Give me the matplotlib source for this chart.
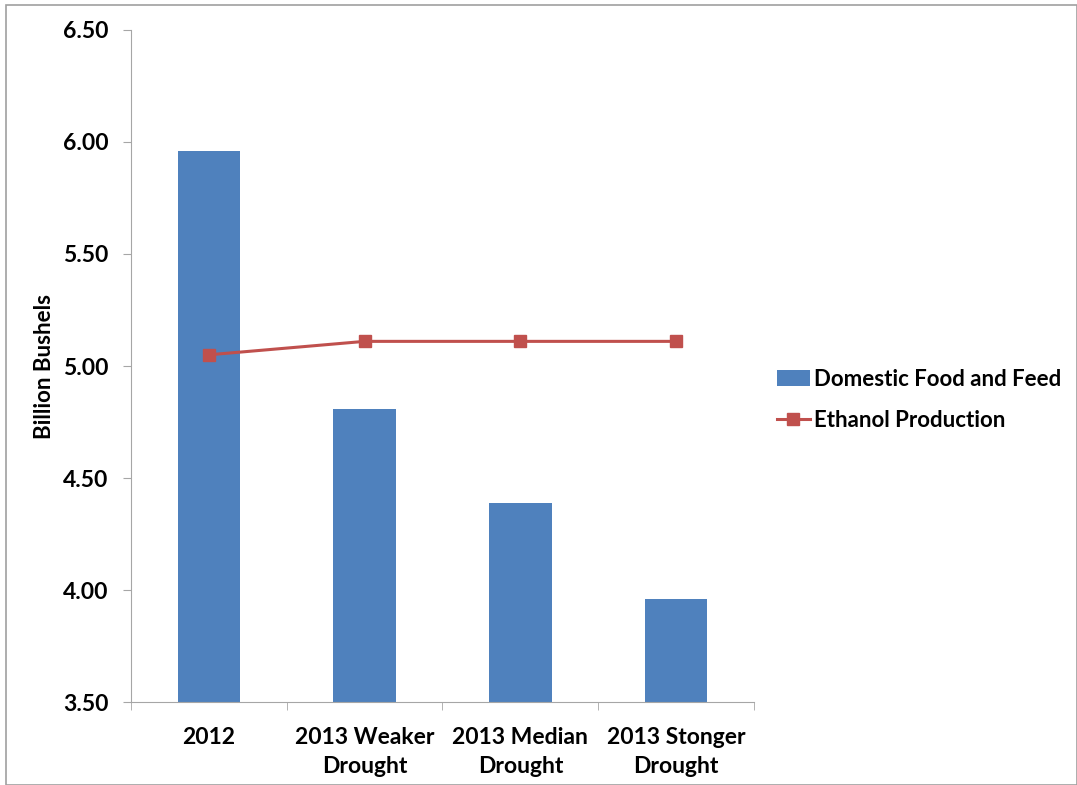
import numpy as np
import matplotlib.pyplot as plt
from matplotlib.patches import Rectangle

plt.rcParams["font.family"] = ["Lato", "DejaVu Sans"]
plt.rcParams["font.weight"] = "bold"

categories = ["2012", "2013 Weaker\nDrought", "2013 Median\nDrought", "2013 Stonger\nDrought"]
food_feed = [5.96, 4.81, 4.39, 3.96]
ethanol = [5.05, 5.11, 5.11, 5.11]

fig = plt.figure(figsize=(10.77, 7.85), dpi=100)
ax = fig.add_axes([0.1216, 0.1057, 0.5785, 0.8561])

x = np.arange(len(categories))
bars = ax.bar(x, food_feed, width=0.4, color="#4F81BD", label="Domestic Food and Feed", zorder=2)
line, = ax.plot(x, ethanol, color="#C0504D", marker="s", markersize=9, linewidth=2.2,
                label="Ethanol Production", zorder=3)

ax.set_xlim(-0.5, 3.5)
ax.set_ylim(3.5, 6.5)
yt = np.arange(3.5, 6.51, 0.5)
ax.set_yticks(yt)
ax.set_yticklabels([f"{v:.2f}" for v in yt], fontsize=16.5, fontweight="bold")
ax.set_xticks(x)
ax.set_xticklabels(categories, fontsize=16.5, fontweight="bold", linespacing=1.45)
ax.set_xticks(np.arange(-0.5, 3.6, 1), minor=True)
ax.tick_params(axis="x", which="major", length=0, pad=18)
ax.tick_params(axis="x", which="minor", length=6, color="#A6A6A6", direction="out")
ax.tick_params(axis="y", length=6, color="#A6A6A6", pad=10)
ax.set_ylabel("Billion Bushels", fontsize=16, fontweight="bold", labelpad=6)

for s in ["top", "right"]:
    ax.spines[s].set_visible(False)
for s in ["left", "bottom"]:
    ax.spines[s].set_color("#A6A6A6")

ax.legend([bars, line], ["Domestic Food and Feed", "Ethanol Production"],
          loc="center left", bbox_to_anchor=(0.721, 0.491), bbox_transform=fig.transFigure,
          frameon=False, fontsize=16, borderpad=0, borderaxespad=0,
          handlelength=1.5, handletextpad=0.2, labelspacing=0.9)

fig.patches.append(Rectangle((0.006, 0.0), 0.994, 0.993, transform=fig.transFigure,
                             fill=False, edgecolor="#A0A0A0", linewidth=1.2))

fig.savefig("out.png", dpi=100)
